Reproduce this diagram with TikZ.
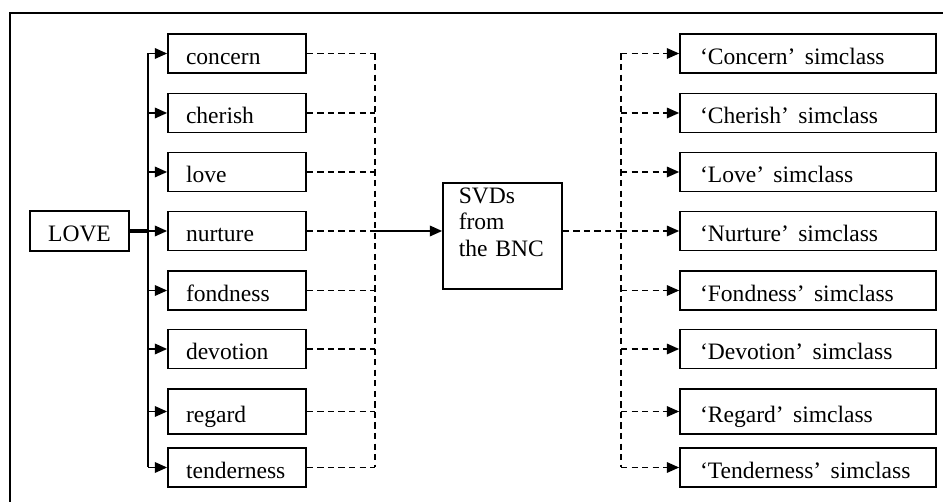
\documentclass[tikz,border=0pt]{standalone}
\usepackage{fontspec}
\setmainfont{Liberation Serif}
\usepackage{tikz}
\usetikzlibrary{positioning,calc,arrows.meta}

\tikzset{
    rootbox/.style={draw, line width=1pt, minimum width=1.98cm, minimum height=0.8cm, text height=12pt, text depth=0pt},
    wordbox/.style={draw, line width=1pt, minimum width=2.76cm, minimum height=0.78cm, text width=2.04cm, inner xsep=0.36cm, align=left, text height=12pt, text depth=0pt},
    classbox/.style={wordbox, minimum width=5.12cm, text width=4.32cm, inner xsep=0.4cm},
    feed/.style={-{Triangle[length=7pt,width=6pt]}},
    dashlink/.style={line width=0.9pt, dash pattern=on 3.5pt off 2.5pt},
}

\begin{document}
\begin{tikzpicture}[x=0.02cm, y=-0.02cm, font=\fontsize{13.4}{15.3}\selectfont]
    \useasboundingbox (0,0) rectangle (943,502);
    \draw[line width=1pt] (943,13) -- (10,13) -- (10,502);

    % Source word and the BNC box
    \node[rootbox] (love) at (79.5,231) {LOVE};
    \node[draw, line width=1pt, minimum width=2.38cm, text width=1.75cm, inner xsep=0.315cm, inner ysep=0pt, align=left, text height=0.4cm, text depth=1.72cm] (svd) at (502.5,236) {SVDs\\from\\the BNC};
    \coordinate (fork) at (148,231);
    \coordinate (gather) at (375,231);
    \coordinate (spread) at (621,231);

    % Rows: synonyms and their simclasses
    \foreach \w/\W/\y/\h in {concern/Concern/53.5/0.78, cherish/Cherish/113/0.78, love/Love/172/0.78, nurture/Nurture/231/0.78, fondness/Fondness/290.5/0.78, devotion/Devotion/349/0.78, regard/Regard/411.5/0.9, tenderness/Tenderness/467.5/0.78} {
        \node[wordbox, minimum height=\h cm] (w-\w) at (237,\y) {\w};
        \node[classbox, minimum height=\h cm] (c-\w) at (808,\y) {‘\W’\hspace{0.4em}simclass};
        \draw[feed, line width=1pt] (fork |- w-\w.west) -- (w-\w.west);
        \draw[dashlink] (w-\w.east) -- (gather |- w-\w.east);
        \draw[dashlink, feed] (spread |- c-\w.west) -- (c-\w.west);
    }

    % Trunks
    \draw[line width=1.8pt] (love.east) -- (fork);
    \draw[line width=1.1pt] (fork |- w-concern) -- (fork |- w-tenderness);
    \draw[dashlink] (gather |- w-concern) -- (gather |- w-tenderness);
    \draw[feed, line width=1pt] (gather) -- (svd.west |- gather);
    \draw[dashlink, line width=1.2pt] (svd.east |- spread) -- (spread);
    \draw[dashlink] (spread |- c-concern) -- (spread |- c-tenderness);
\end{tikzpicture}
\end{document}
